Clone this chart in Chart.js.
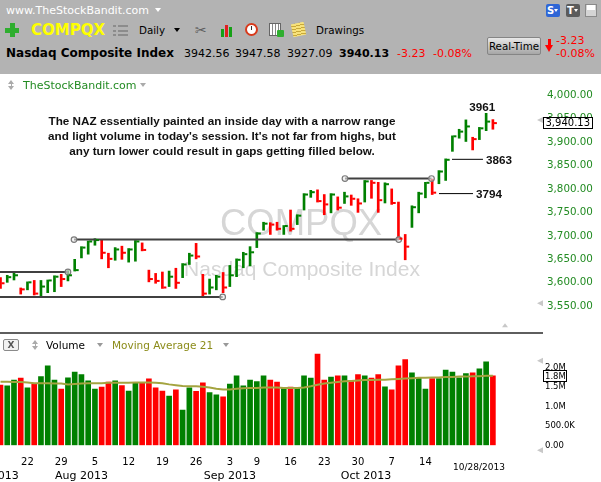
<!DOCTYPE html>
<html>
<head>
<meta charset="utf-8">
<title>COMPQX - Nasdaq Composite Index</title>
<script src="https://cdn.jsdelivr.net/npm/chart.js@4.4.1/dist/chart.umd.min.js"></script>
<style>
  html, body { margin: 0; padding: 0; }
  body { position: relative; width: 601px; height: 482px; overflow: hidden; background: #fff;
         font-family: "DejaVu Sans", sans-serif; }
  .a { position: absolute; white-space: nowrap; line-height: 1; }
  .tri { position: absolute; width: 0; height: 0; border-left: 3.5px solid transparent; border-right: 3.5px solid transparent; }
  canvas { position: absolute; left: 0; }
</style>
</head>
<body>

<canvas id="price" width="601" height="259" style="top:74px;width:601px;height:259px"></canvas>
<canvas id="vol" width="601" height="149" style="top:333px;width:601px;height:149px"></canvas>

<!-- top toolbar -->
<div class="a" style="left:0;top:0;width:601px;height:74px;background:#b3b3b3"></div>
<div class="a" style="left:6px;top:4.7px;font-size:11px;color:#fff">www.TheStockBandit.com</div>
<div class="tri" style="left:155px;top:8px;border-top:4px solid #fff"></div>
<div class="a" style="left:546px;top:4px;width:14px;height:13px;background:#2f66d6;border-radius:2px;color:#fff;font-weight:bold;font-size:10px;line-height:13px;padding-left:1px;box-sizing:border-box">S</div>
<div class="tri" style="left:554px;top:9px;border-left-width:2px;border-right-width:2px;border-top:3px solid #fff"></div>
<div class="a" style="left:566px;top:4px;width:14px;height:13px;background:#5b5b5b;border-radius:2px;color:#fff;font-weight:bold;font-size:10px;line-height:13px;padding-left:1px;box-sizing:border-box">T</div>
<div class="tri" style="left:574px;top:9px;border-left-width:2px;border-right-width:2px;border-top:3px solid #fff"></div>
<div class="a" style="left:585px;top:4px;width:12px;height:13px;background:#d4d4d4;border:1px solid #8a8a8a;box-sizing:border-box"></div>
<div class="a" style="left:587px;top:5px;width:8px;height:5px;background:#fff"></div>

<div class="a" style="left:5px;top:27.5px;width:14px;height:5px;background:#2fae2f"></div>
<div class="a" style="left:9.5px;top:23px;width:5px;height:14px;background:#2fae2f"></div>
<div class="a" style="left:31px;top:22.7px;font-size:15px;font-weight:bold;color:#ffff00">COMPQX</div>
<div class="a" style="left:113px;top:25px;width:3px;height:11px;background:repeating-linear-gradient(to bottom,#8c8c8c 0 2px,transparent 2px 4.5px)"></div>
<div class="a" style="left:118px;top:25px;width:10px;height:11px;background:repeating-linear-gradient(to bottom,#8c8c8c 0 2px,transparent 2px 4.5px)"></div>
<div class="a" style="left:139px;top:25px;font-size:10.3px;color:#000">Daily</div>
<div class="tri" style="left:174px;top:28px;border-top:4.5px solid #000"></div>
<div class="a" style="left:195px;top:23px;font-size:14px;color:#5e5e5e">&#9986;</div>
<div class="a" style="left:221px;top:29px;width:3px;height:8px;background:#16a016"></div>
<div class="a" style="left:225px;top:25px;width:3px;height:12px;background:#e02020"></div>
<div class="a" style="left:229px;top:27px;width:3px;height:10px;background:#16a016"></div>
<div class="a" style="left:245px;top:23px;width:13px;height:13px;border-radius:50%;border:2px solid #d83a1c;background:#fff;box-sizing:border-box"></div>
<div class="a" style="left:251px;top:26px;width:1px;height:4px;background:#333"></div>
<div class="a" style="left:269px;top:23px;width:12px;height:13px;border:1px solid #666;box-sizing:border-box;background:repeating-linear-gradient(to right,#fff 0 2px,#888 2px 3px)"></div>
<div class="a" style="left:277px;top:30px;width:7px;height:7px;background:#2fae2f;border-radius:1px"></div>
<div class="a" style="left:292px;top:23px;width:13px;height:13px;background:repeating-linear-gradient(to bottom,#f7e27b 0 2px,#c9a93a 2px 3px);transform:rotate(-12deg)"></div>
<div class="a" style="left:316px;top:25px;font-size:10.3px;color:#000">Drawings</div>

<div class="a" style="left:6px;top:47.2px;font-size:12px;font-weight:bold;color:#000">Nasdaq Composite Index</div>
<div class="a" id="qOpen" style="left:184px;top:47.7px;font-size:11px;color:#000"></div>
<div class="a" id="qHigh" style="left:235px;top:47.7px;font-size:11px;color:#000"></div>
<div class="a" id="qLow" style="left:287px;top:47.7px;font-size:11px;color:#000"></div>
<div class="a" id="qClose" style="left:339px;top:47.7px;font-size:11px;font-weight:bold;color:#000"></div>
<div class="a" id="qChg" style="left:397px;top:47.7px;font-size:11px;color:#f00"></div>
<div class="a" id="qPct" style="left:433px;top:47.7px;font-size:11px;color:#f00"></div>
<div class="a" style="left:487px;top:37px;width:54px;height:18px;box-sizing:border-box;border:1px solid #858585;border-radius:2px;background:linear-gradient(#e8e8e8,#a6a6a6);font-size:10.3px;line-height:16px;text-align:center;color:#000">Real-Time</div>
<div class="a" style="left:548px;top:39px;width:3px;height:7px;background:#f00"></div>
<div class="tri" style="left:545px;top:45px;border-left-width:4.5px;border-right-width:4.5px;border-top:7px solid #f00"></div>
<div class="a" id="qChg2" style="left:556px;top:34.7px;font-size:11px;color:#f00"></div>
<div class="a" id="qPct2" style="left:556px;top:48px;font-size:11px;color:#f00"></div>

<!-- price panel header -->
<div class="tri" style="left:8px;top:80px;border-left-width:3px;border-right-width:3px;border-bottom:4px solid #aaa"></div>
<div class="a" style="left:10.5px;top:84px;width:1px;height:2px;background:#aaa"></div>
<div class="tri" style="left:8px;top:86px;border-left-width:3px;border-right-width:3px;border-top:4px solid #aaa"></div>
<div class="a" style="left:23px;top:79.7px;font-size:11px;color:#228b22">TheStockBandit.com</div>
<div class="tri" style="left:140px;top:83px;border-top:4px solid #aaa"></div>

<!-- panel divider and volume header -->
<div class="a" style="left:0;top:332px;width:543px;height:2px;background:#5e5e5e"></div>
<div class="a" style="left:3px;top:339px;width:16px;height:12px;box-sizing:border-box;border:1px solid #8a8a8a;border-radius:2px;background:#f2f2f2;font-size:9px;font-weight:bold;color:#555;text-align:center;line-height:10px">X</div>
<div class="tri" style="left:32px;top:340px;border-left-width:3px;border-right-width:3px;border-bottom:4px solid #aaa"></div>
<div class="a" style="left:34.5px;top:344px;width:1px;height:2px;background:#aaa"></div>
<div class="tri" style="left:32px;top:346px;border-left-width:3px;border-right-width:3px;border-top:4px solid #aaa"></div>
<div class="a" style="left:46px;top:340px;font-size:10.5px;color:#000">Volume</div>
<div class="tri" style="left:97px;top:343px;border-top:4px solid #999"></div>
<div class="a" style="left:112px;top:340px;font-size:10.5px;color:#8c8c1a">Moving Average 21</div>
<div class="tri" style="left:223px;top:343px;border-top:4px solid #999"></div>

<script>
// daily bars, 16 Jul 2013 .. 28 Oct 2013 (index 0 .. 73)
const highs = [
  3611, 3616, 3622, 3589, 3602, 3605, 3605, 3606, 3615, 3618,
  3626, 3650, 3677, 3689, 3694, 3691, 3663, 3675, 3678, 3673,
  3690, 3685, 3627, 3620, 3623, 3625, 3631, 3641, 3663, 3684,
  3618, 3608, 3616, 3622, 3637, 3651, 3665, 3677, 3707, 3729,
  3728, 3729, 3722, 3755, 3745, 3790, 3797, 3798, 3788, 3790,
  3783, 3793, 3787, 3779, 3818, 3818, 3814, 3813, 3800, 3772,
  3703, 3764, 3793, 3814, 3821, 3839, 3864, 3913, 3927, 3947,
  3910, 3931, 3961, 3947.58
];
const lows = [
  3588, 3601, 3606, 3576, 3585, 3574, 3571, 3579, 3581, 3592,
  3604, 3625, 3653, 3661, 3680, 3651, 3632, 3648, 3650, 3644,
  3646, 3668, 3602, 3599, 3588, 3592, 3588, 3611, 3639, 3651,
  3572, 3576, 3585, 3579, 3592, 3613, 3632, 3636, 3675, 3712,
  3703, 3712, 3703, 3710, 3724, 3755, 3782, 3772, 3745, 3749,
  3755, 3769, 3765, 3750, 3772, 3780, 3750, 3770, 3767, 3692,
  3649, 3718, 3749, 3781, 3788, 3811, 3818, 3880, 3908, 3901,
  3883, 3905, 3924, 3927.09
];
const closes = [
  3599, 3612, 3616, 3586, 3601, 3577, 3592, 3605, 3613, 3608,
  3616, 3627, 3675, 3688, 3691, 3664, 3651, 3671, 3664, 3671,
  3688, 3670, 3608, 3604, 3590, 3613, 3600, 3639, 3658, 3656,
  3577, 3590, 3613, 3590, 3616, 3649, 3661, 3665, 3705, 3726,
  3724, 3715, 3721, 3715, 3743, 3788, 3793, 3774, 3767, 3788,
  3760, 3784, 3779, 3769, 3816, 3813, 3776, 3810, 3770, 3694,
  3677, 3761, 3790, 3813, 3792, 3837, 3862, 3912, 3922, 3933,
  3906, 3929, 3943.36, 3940.13
];
const prevClose = 3607;      // session before the first bar, sets its colour
const lastOpen = 3942.56;

// volume in millions and its 21 day average
const volumes = [
  1.55, 1.53, 1.68, 1.73, 1.48, 1.58, 1.77, 2.05, 1.68, 1.45,
  1.74, 1.89, 1.82, 1.66, 1.45, 1.50, 1.63, 1.66, 1.54, 1.40,
  1.61, 1.60, 1.71, 1.48, 1.40, 1.27, 1.43, 0.91, 1.48, 1.39,
  1.61, 1.36, 1.30, 1.25, 1.58, 1.79, 1.53, 1.68, 1.64, 1.79,
  1.68, 1.63, 1.46, 1.50, 1.48, 1.79, 1.73, 2.35, 1.68, 1.76,
  1.79, 1.79, 1.66, 1.82, 1.79, 1.73, 1.82, 1.51, 1.43, 2.05,
  2.21, 1.87, 1.73, 1.45, 1.72, 1.72, 1.94, 1.89, 1.74, 1.85,
  1.87, 1.97, 2.15, 1.79
];
const volumeMA21 = [
  1.64, 1.64, 1.63, 1.63, 1.62, 1.60, 1.60, 1.60, 1.59, 1.59,
  1.57, 1.58, 1.59, 1.60, 1.60, 1.60, 1.61, 1.61, 1.61, 1.61,
  1.62, 1.62, 1.62, 1.61, 1.60, 1.57, 1.55, 1.53, 1.52, 1.52,
  1.51, 1.49, 1.46, 1.44, 1.44, 1.46, 1.47, 1.48, 1.48, 1.49,
  1.49, 1.49, 1.48, 1.48, 1.48, 1.49, 1.52, 1.56, 1.59, 1.61,
  1.63, 1.65, 1.66, 1.67, 1.68, 1.68, 1.69, 1.69, 1.70, 1.71,
  1.72, 1.73, 1.74, 1.74, 1.75, 1.75, 1.76, 1.76, 1.77, 1.77,
  1.78, 1.78, 1.79, 1.79
];

const priceTicks = [3550, 3600, 3650, 3700, 3750, 3800, 3850, 3900, 3950, 4000];
const volTicks = [0, 0.5, 1, 1.5, 2];
const weekTicks = [4, 9, 14, 19, 24, 29, 34, 38, 43, 48, 53, 58, 63];
const weekLabels = ['22', '29', '5', '12', '19', '26', '3', '9', '16', '23', '30', '7', '14'];
const monthTicks = [-0.6, 12, 34, 54.2];
const monthLabels = ['Jul 2013', 'Aug 2013', 'Sep 2013', 'Oct 2013'];
const lastDate = '10/28/2013';

// hand drawn levels (bar index from/to, price); from null = left edge
const supportLines = [
  {from: null, to: 10.0, price: 3623},
  {from: null, to: 32.94, price: 3570},
  {from: 10.9, to: 59.04, price: 3692},
  {from: 51.07, to: 63.9, price: 3822}
];
const gapLines = [
  {from: 66.94, to: 71.53, price: 3863, label: '3863'},
  {from: 65.01, to: 70.05, price: 3790, label: '3794'}
];
const peakBar = 72, peakLabel = '3961';
const noteLines = [
  'The NAZ essentially painted an inside day with a narrow range',
  "and light volume in today's session. It's not far from highs, but",
  'any turn lower could result in gaps getting filled below.'
];

const UP = '#008000', DOWN = '#ff0000';
const X_MIN = -0.074, X_MAX = 80.43;
const AXIS_W = 58;
// value -> pixel anchors of each panel (value, pixel from panel top, pixels per unit)
const PRICE_ANCHOR = {value: 4000, px: 21, scale: 0.4695};
const VOL_ANCHOR = {value: 0, px: 112.3, scale: 38.8};

const last = closes.length - 1;
const barColors = closes.map((c, i) => c >= (i ? closes[i - 1] : prevClose) ? UP : DOWN);
const fmtPrice = v => v.toLocaleString('en-US', {minimumFractionDigits: 2, maximumFractionDigits: 2});
const fmtVol = v => v === 0 ? '0.00' : v < 1 ? (v * 1000).toFixed(1) + 'K' : v.toFixed(1) + 'M';

// quote line
const chg = closes[last] - closes[last - 1];
const pct = chg / closes[last - 1] * 100;
document.getElementById('qOpen').textContent = lastOpen.toFixed(2);
document.getElementById('qHigh').textContent = highs[last].toFixed(2);
document.getElementById('qLow').textContent = lows[last].toFixed(2);
document.getElementById('qClose').textContent = closes[last].toFixed(2);
document.getElementById('qChg').textContent = document.getElementById('qChg2').textContent = chg.toFixed(2);
document.getElementById('qPct').textContent = document.getElementById('qPct2').textContent = pct.toFixed(2) + '%';

Chart.defaults.font.family = '"DejaVu Sans", sans-serif';

function handle(ctx, x, y) {
  ctx.beginPath();
  ctx.moveTo(x, y - 3);
  ctx.lineTo(x, y + 3);
  ctx.lineTo(x - 6, y);
  ctx.closePath();
  ctx.fill();
}

// keep the y mapping fixed whatever padding chart.js gives the plot
function pinY(chart, a) {
  const {top, bottom} = chart.chartArea;
  const y = chart.options.scales.y;
  y.max = a.value + (a.px - top) / a.scale;
  y.min = a.value - (bottom - a.px) / a.scale;
  chart.update('none');
}

const priceDecor = {
  id: 'priceDecor',
  beforeDatasetsDraw(chart) {
    const {ctx} = chart;
    ctx.save();
    ctx.fillStyle = '#d6d6d6';
    ctx.textAlign = 'center';
    ctx.font = '36.5px "Liberation Sans"';
    ctx.fillText('COMPQX', 301, 161);
    ctx.font = '21px "Liberation Sans"';
    ctx.fillText('Nasdaq Composite Index', 302, 201.5);
    ctx.restore();
  },
  afterDatasetsDraw(chart) {
    const {ctx, scales: {x, y}} = chart;
    ctx.save();
    closes.forEach((c, i) => {
      ctx.fillStyle = barColors[i];
      ctx.fillRect(x.getPixelForValue(i) + 1, y.getPixelForValue(c) - 1, 3, 2);
    });
    ctx.fillStyle = '#111';
    ctx.font = 'bold 11.7px "Liberation Sans"';
    ctx.textAlign = 'center';
    noteLines.forEach((t, k) => ctx.fillText(t, 222, 51.2 + k * 15));
    ctx.textAlign = 'left';
    gapLines.forEach(g => ctx.fillText(g.label, x.getPixelForValue(g.to) + 3, y.getPixelForValue(g.price) + 4.2));
    ctx.textAlign = 'center';
    ctx.fillText(peakLabel, x.getPixelForValue(peakBar) - 4, y.getPixelForValue(highs[peakBar]) - 2.5);
    ctx.restore();
  },
  afterDraw(chart) {
    const {ctx, chartArea, scales: {y}} = chart;
    ctx.save();
    const cy = Math.round(y.getPixelForValue(closes[last]));
    ctx.fillStyle = '#fff';
    ctx.fillRect(chartArea.right, cy - 5, 50, 10);
    ctx.strokeStyle = '#000';
    ctx.lineWidth = 1;
    ctx.strokeRect(chartArea.right + 0.5, cy - 5.5, 49, 11);
    ctx.fillStyle = '#000';
    ctx.font = '10px "DejaVu Sans"';
    ctx.textBaseline = 'middle';
    ctx.fillText(fmtPrice(closes[last]), chartArea.right + 2.5, cy + 0.5);
    ctx.fillStyle = '#c8c8c8';
    handle(ctx, chartArea.right, y.getPixelForValue(4000) + 25);
    handle(ctx, chartArea.right, y.getPixelForValue(3550) - 3);
    const b = y.getPixelForValue(3550) + 21;
    ctx.beginPath();
    ctx.moveTo(505, b - 4);
    ctx.lineTo(508, b);
    ctx.lineTo(502, b);
    ctx.closePath();
    ctx.fill();
    ctx.restore();
  }
};

const volDecor = {
  id: 'volDecor',
  afterDraw(chart) {
    const {ctx, chartArea, scales: {x, y}} = chart;
    const base = y.getPixelForValue(0);
    ctx.save();
    ctx.fillStyle = '#000';
    ctx.textAlign = 'center';
    ctx.textBaseline = 'middle';
    ctx.font = '10px "DejaVu Sans"';
    weekTicks.forEach((idx, k) => ctx.fillText(weekLabels[k], x.getPixelForValue(idx), base + 16.7));
    ctx.font = '11px "DejaVu Sans"';
    monthTicks.forEach((idx, k) => ctx.fillText(monthLabels[k], x.getPixelForValue(idx), base + 30.4));
    ctx.font = '9px "DejaVu Sans"';
    ctx.textAlign = 'right';
    ctx.fillText(lastDate, x.getPixelForValue(last) + 12, base + 22.4);

    const vy = Math.round(y.getPixelForValue(volumes[last]));
    ctx.fillStyle = '#fff';
    ctx.fillRect(chartArea.right, vy - 5, 24, 10);
    ctx.strokeStyle = '#000';
    ctx.strokeRect(chartArea.right + 0.5, vy - 5.5, 23, 11);
    ctx.fillStyle = '#000';
    ctx.textAlign = 'left';
    ctx.font = '8.5px "DejaVu Sans"';
    ctx.fillText(fmtVol(volumes[last]), chartArea.right + 2, vy + 0.5);
    ctx.fillStyle = '#c8c8c8';
    handle(ctx, chartArea.right, y.getPixelForValue(2) - 7);
    handle(ctx, chartArea.right, base + 5);
    ctx.restore();
  }
};

const rightAxis = (min, max, ticks, fmt, color, size, pad) => ({
  position: 'right',
  min, max,
  grid: {display: false, drawTicks: false},
  border: {display: false},
  afterBuildTicks: s => { s.ticks = ticks.map(v => ({value: v})); },
  afterFit: s => { s.width = AXIS_W; s.paddingTop = 0; s.paddingBottom = 0; },
  ticks: {padding: pad, color, autoSkip: false, font: {size}, callback: v => fmt(v)}
});

const baseOptions = {
  responsive: false,
  animation: false,
  events: [],
  plugins: {legend: {display: false}, tooltip: {enabled: false}}
};

// price panel: high-low bars, close ticks, drawn levels
const priceChart = new Chart(document.getElementById('price'), {
  type: 'bar',
  data: {
    datasets: [
      {
        type: 'bar',
        data: highs.map((h, i) => ({x: i, y: [lows[i], h]})),
        backgroundColor: barColors,
        barThickness: 2,
        order: 3
      },
      ...supportLines.map(l => ({
        type: 'line',
        data: [{x: l.from === null ? X_MIN : l.from, y: l.price}, {x: l.to, y: l.price}],
        borderColor: '#404040',
        borderWidth: 2,
        pointRadius: [l.from === null ? 0 : 2.8, 2.8],
        pointBackgroundColor: 'rgba(235,235,235,0.6)',
        pointBorderColor: '#7a7a7a',
        pointBorderWidth: 1.2,
        order: 1
      })),
      ...gapLines.map(g => ({
        type: 'line',
        data: [{x: g.from, y: g.price}, {x: g.to, y: g.price}],
        borderColor: '#000',
        borderWidth: 1,
        pointRadius: 0,
        order: 2
      }))
    ]
  },
  options: {
    ...baseOptions,
    layout: {padding: 0, autoPadding: false},
    scales: {
      x: {type: 'linear', min: X_MIN, max: X_MAX, display: false, offset: false},
      y: rightAxis(3493.1, 4044.7, priceTicks, fmtPrice, '#228b22', 10.3, 4)
    }
  },
  plugins: [priceDecor]
});
pinY(priceChart, PRICE_ANCHOR);

// volume panel
const volChart = new Chart(document.getElementById('vol'), {
  type: 'bar',
  data: {
    datasets: [
      {
        type: 'line',
        data: volumeMA21.map((v, i) => ({x: i, y: v})),
        borderColor: '#a4a440',
        borderWidth: 2,
        pointRadius: 0,
        tension: 0,
        order: 1
      },
      {
        type: 'bar',
        data: volumes.map((v, i) => ({x: i, y: v})),
        backgroundColor: barColors,
        barThickness: 5,
        order: 2
      }
    ]
  },
  options: {
    ...baseOptions,
    layout: {padding: {bottom: 36.7}, autoPadding: false},
    scales: {
      x: {type: 'linear', min: X_MIN, max: X_MAX, display: false, offset: false},
      y: rightAxis(0, 2.894, volTicks, fmtVol, '#000', 8.5, 2)
    }
  },
  plugins: [volDecor]
});
pinY(volChart, VOL_ANCHOR);
</script>
</body>
</html>
